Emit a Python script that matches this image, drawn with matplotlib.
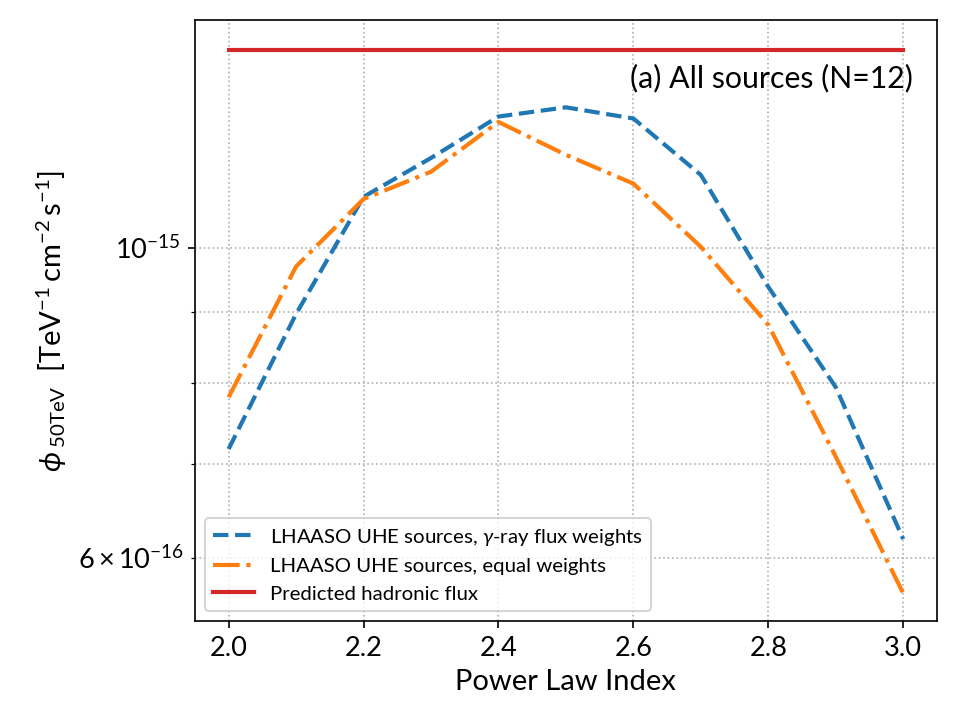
import matplotlib
matplotlib.use("Agg")
import matplotlib.pyplot as plt
from matplotlib.ticker import FixedLocator
import numpy as np

plt.rcParams['font.family'] = ['Lato', 'DejaVu Sans']
plt.rcParams['mathtext.fontset'] = 'custom'
plt.rcParams['mathtext.rm'] = 'Lato'
plt.rcParams['mathtext.it'] = 'Lato:italic'
plt.rcParams['mathtext.bf'] = 'Lato:bold'

index = [2.0, 2.1, 2.2, 2.3, 2.4, 2.5, 2.6, 2.7, 2.8, 2.9, 3.0]
flux_weighted = [7.18e-16, 8.97e-16, 1.088e-15, 1.160e-15, 1.242e-15, 1.261e-15,
                 1.238e-15, 1.128e-15, 9.38e-16, 7.95e-16, 6.19e-16]
equal_weighted = [7.82e-16, 9.70e-16, 1.084e-15, 1.134e-15, 1.231e-15, 1.166e-15,
                  1.112e-15, 1.002e-15, 8.81e-16, 7.09e-16, 5.66e-16]
hadronic = 1.386e-15
major_yticks = [1e-15]
minor_yticks = [6e-16, 7e-16, 8e-16, 9e-16]

fig, ax = plt.subplots(figsize=(6.4, 4.8), dpi=150)
ax.plot(index, flux_weighted, '--', color='#1f77b4', lw=2,
        label=r'LHAASO UHE sources, $\gamma$-ray flux weights')
ax.plot(index, equal_weighted, '-.', color='#ff7f0e', lw=2,
        label='LHAASO UHE sources, equal weights')
ax.plot([index[0], index[-1]], [hadronic, hadronic], '-', color='#d62728', lw=2,
        label='Predicted hadronic flux')
ax.set_yscale('log')
ax.set_ylim(5.408e-16, 1.4558e-15)
ax.yaxis.set_major_locator(FixedLocator(major_yticks))
ax.yaxis.set_minor_locator(FixedLocator(minor_yticks))
ax.grid(True, which='both', linestyle=':', color='#b0b0b0', lw=0.8)
ax.set_xlabel('Power Law Index', fontsize=14)
ax.set_ylabel(r'$\phi_{\;\mathrm{50TeV}}$  [TeV$^{-1}\,$cm$^{-2}\,$s$^{-1}$]', fontsize=14)
ax.tick_params(labelsize=13, which='both')
ax.text(0.968, 0.903, '(a) All sources (N=12)', transform=ax.transAxes,
        ha='right', va='center', fontsize=14.5)
ax.legend(loc='lower left', fontsize=9.8)
fig.subplots_adjust(left=0.203, right=0.976, top=0.972, bottom=0.1375)
fig.savefig('out.png')
